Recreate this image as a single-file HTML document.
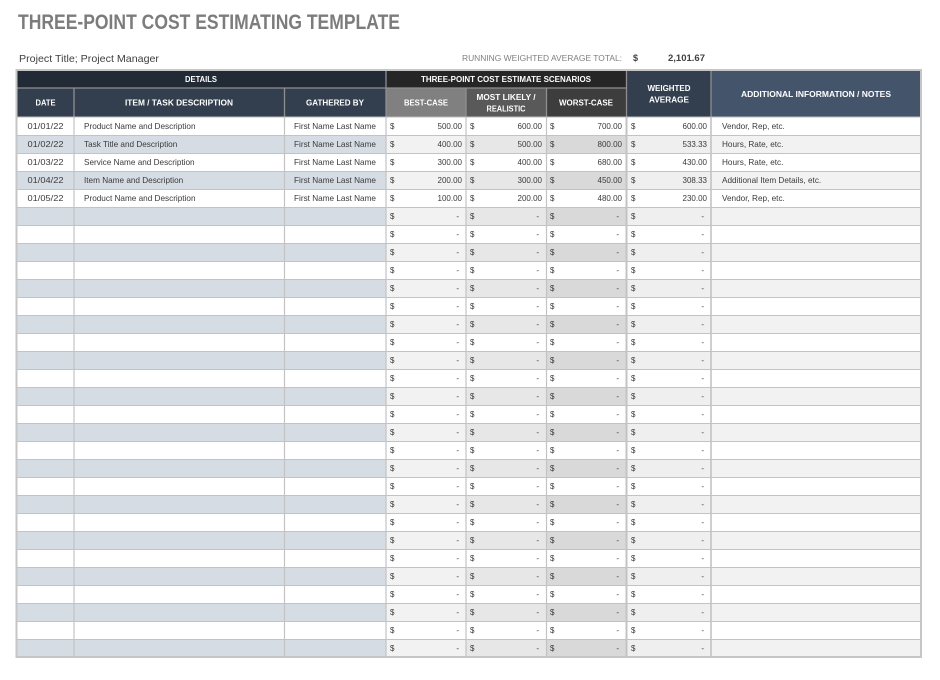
<!DOCTYPE html>
<html><head><meta charset="utf-8"><style>
html,body{margin:0;padding:0;background:#fff;}
svg{display:block;}
text{font-family:"Liberation Sans",Arial,sans-serif;}
.d{font-size:8.2px;fill:#3a3a3a;}
.n{font-size:8px;fill:#3a3a3a;}
.h{font-size:8px;fill:#fff;font-weight:bold;}
.e{text-anchor:end;}
.c{text-anchor:middle;}
</style></head><body>
<svg width="940" height="680" viewBox="0 0 940 680" xmlns="http://www.w3.org/2000/svg">
<defs>
<pattern id="pD" patternUnits="userSpaceOnUse" x="0" y="117" width="940" height="36"><rect x="0" y="0" width="940" height="18" fill="#fff"/><rect x="0" y="18" width="940" height="18" fill="#d6dce4"/></pattern>
<pattern id="pB" patternUnits="userSpaceOnUse" x="0" y="117" width="940" height="36"><rect x="0" y="0" width="940" height="18" fill="#fff"/><rect x="0" y="18" width="940" height="18" fill="#f2f2f2"/></pattern>
<pattern id="pM" patternUnits="userSpaceOnUse" x="0" y="117" width="940" height="36"><rect x="0" y="0" width="940" height="18" fill="#fff"/><rect x="0" y="18" width="940" height="18" fill="#e7e7e7"/></pattern>
<pattern id="pW" patternUnits="userSpaceOnUse" x="0" y="117" width="940" height="36"><rect x="0" y="0" width="940" height="18" fill="#fff"/><rect x="0" y="18" width="940" height="18" fill="#d9d9d9"/></pattern>
<pattern id="pA" patternUnits="userSpaceOnUse" x="0" y="117" width="940" height="36"><rect x="0" y="0" width="940" height="18" fill="#fff"/><rect x="0" y="18" width="940" height="18" fill="#efefef"/></pattern>
<pattern id="pN" patternUnits="userSpaceOnUse" x="0" y="117" width="940" height="36"><rect x="0" y="0" width="940" height="18" fill="#fff"/><rect x="0" y="18" width="940" height="18" fill="#f2f2f2"/></pattern>
<pattern id="hl" patternUnits="userSpaceOnUse" x="0" y="117" width="940" height="18"><rect x="0" y="0" width="940" height="1" fill="#c3c3c3"/></pattern>
</defs>

<!-- Title -->
<text x="18" y="29" font-size="21" font-weight="bold" fill="#7c7c7c" textLength="382" lengthAdjust="spacingAndGlyphs">THREE-POINT COST ESTIMATING TEMPLATE</text>
<text x="19" y="62" font-size="10.5" fill="#404040" textLength="140" lengthAdjust="spacingAndGlyphs">Project Title; Project Manager</text>
<text x="462" y="61" font-size="8" fill="#7f7f7f" textLength="160" lengthAdjust="spacingAndGlyphs">RUNNING WEIGHTED AVERAGE TOTAL:</text>
<text x="633" y="61" font-size="9" font-weight="bold" fill="#404040">$</text>
<text x="668" y="61" font-size="9" font-weight="bold" fill="#404040" textLength="37" lengthAdjust="spacingAndGlyphs">2,101.67</text>

<!-- body column fills -->
<rect x="16" y="117" width="370" height="540" fill="url(#pD)"/>
<rect x="386" y="117" width="80" height="540" fill="url(#pB)"/>
<rect x="466" y="117" width="80" height="540" fill="url(#pM)"/>
<rect x="546" y="117" width="80.5" height="540" fill="url(#pW)"/>
<rect x="626.5" y="117" width="84.5" height="540" fill="url(#pA)"/>
<rect x="711" y="117" width="210" height="540" fill="url(#pN)"/>
<!-- horizontal grid -->
<rect x="16" y="134.5" width="905" height="522" fill="url(#hl)" transform="translate(0,0)"/>
<!-- vertical grid -->
<g stroke="#c3c3c3" stroke-width="1.2">
<line x1="74" y1="117" x2="74" y2="657"/>
<line x1="284.5" y1="117" x2="284.5" y2="657"/>
<line x1="386" y1="117" x2="386" y2="657"/>
<line x1="466" y1="117" x2="466" y2="657"/>
<line x1="546.5" y1="117" x2="546.5" y2="657"/>
<line x1="626.5" y1="117" x2="626.5" y2="657" stroke-width="2"/>
<line x1="711" y1="117" x2="711" y2="657" stroke-width="1.6"/>
</g>

<!-- headers -->
<rect x="16" y="70" width="370" height="18" fill="#222a35"/>
<rect x="16" y="88" width="370" height="29" fill="#333f4f"/>
<rect x="386" y="70" width="240.5" height="18" fill="#262626"/>
<rect x="386" y="88" width="80" height="29" fill="#808080"/>
<rect x="466" y="88" width="80" height="29" fill="#595959"/>
<rect x="546" y="88" width="80.5" height="29" fill="#3d3d3d"/>
<rect x="626.5" y="70" width="84.5" height="47" fill="#333f4f"/>
<rect x="711" y="70" width="210" height="47" fill="#44546a"/>
<g stroke="#8f8f8f" stroke-width="1.3">
<line x1="16" y1="88" x2="626.5" y2="88"/>
<line x1="74" y1="88" x2="74" y2="117"/>
<line x1="284.5" y1="88" x2="284.5" y2="117"/>
<line x1="386" y1="70" x2="386" y2="117"/>
<line x1="466" y1="88" x2="466" y2="117"/>
<line x1="546.5" y1="88" x2="546.5" y2="117"/>
<line x1="626.5" y1="70" x2="626.5" y2="117"/>
<line x1="711" y1="70" x2="711" y2="117"/>
</g>
<line x1="16" y1="117" x2="921" y2="117" stroke="#bdbdbd" stroke-width="1"/>
<!-- outer border -->
<rect x="16.5" y="70" width="904.5" height="587" fill="none" stroke="#c6c6c6" stroke-width="2"/>

<text class="h c" x="201" y="82" textLength="32" lengthAdjust="spacingAndGlyphs">DETAILS</text>
<text class="h c" x="506" y="82" textLength="170" lengthAdjust="spacingAndGlyphs">THREE-POINT COST ESTIMATE SCENARIOS</text>
<text class="h c" x="45.5" y="105.5" textLength="20" lengthAdjust="spacingAndGlyphs">DATE</text>
<text class="h c" x="179" y="105.5" textLength="108" lengthAdjust="spacingAndGlyphs">ITEM / TASK DESCRIPTION</text>
<text class="h c" x="335" y="105.5" textLength="58" lengthAdjust="spacingAndGlyphs">GATHERED BY</text>
<text class="h c" x="426" y="105.5" textLength="44" lengthAdjust="spacingAndGlyphs">BEST-CASE</text>
<text class="h c" x="506" y="100" textLength="59" lengthAdjust="spacingAndGlyphs">MOST LIKELY /</text>
<text class="h c" x="506" y="111.5" textLength="39" lengthAdjust="spacingAndGlyphs">REALISTIC</text>
<text class="h c" x="586" y="105.5" textLength="54" lengthAdjust="spacingAndGlyphs">WORST-CASE</text>
<text class="h c" x="669" y="91" textLength="43" lengthAdjust="spacingAndGlyphs">WEIGHTED</text>
<text class="h c" x="669" y="102.5" textLength="40" lengthAdjust="spacingAndGlyphs">AVERAGE</text>
<text class="h c" x="816" y="97" textLength="150" lengthAdjust="spacingAndGlyphs">ADDITIONAL INFORMATION / NOTES</text>

<!-- data rows -->
<g transform="translate(0,129)">
<text class="d c" x="45.5" textLength="36" lengthAdjust="spacingAndGlyphs">01/01/22</text>
<text class="d" x="84">Product Name and Description</text>
<text class="d c" x="335">First Name Last Name</text>
<text class="n" x="390">$</text><text class="n e" x="462">500.00</text>
<text class="n" x="470">$</text><text class="n e" x="542">600.00</text>
<text class="n" x="550">$</text><text class="n e" x="622">700.00</text>
<text class="n" x="631">$</text><text class="n e" x="707">600.00</text>
<text class="d" x="722">Vendor, Rep, etc.</text>
</g>
<g transform="translate(0,147)">
<text class="d c" x="45.5" textLength="36" lengthAdjust="spacingAndGlyphs">01/02/22</text>
<text class="d" x="84">Task Title and Description</text>
<text class="d c" x="335">First Name Last Name</text>
<text class="n" x="390">$</text><text class="n e" x="462">400.00</text>
<text class="n" x="470">$</text><text class="n e" x="542">500.00</text>
<text class="n" x="550">$</text><text class="n e" x="622">800.00</text>
<text class="n" x="631">$</text><text class="n e" x="707">533.33</text>
<text class="d" x="722">Hours, Rate, etc.</text>
</g>
<g transform="translate(0,165)">
<text class="d c" x="45.5" textLength="36" lengthAdjust="spacingAndGlyphs">01/03/22</text>
<text class="d" x="84">Service Name and Description</text>
<text class="d c" x="335">First Name Last Name</text>
<text class="n" x="390">$</text><text class="n e" x="462">300.00</text>
<text class="n" x="470">$</text><text class="n e" x="542">400.00</text>
<text class="n" x="550">$</text><text class="n e" x="622">680.00</text>
<text class="n" x="631">$</text><text class="n e" x="707">430.00</text>
<text class="d" x="722">Hours, Rate, etc.</text>
</g>
<g transform="translate(0,183)">
<text class="d c" x="45.5" textLength="36" lengthAdjust="spacingAndGlyphs">01/04/22</text>
<text class="d" x="84">Item Name and Description</text>
<text class="d c" x="335">First Name Last Name</text>
<text class="n" x="390">$</text><text class="n e" x="462">200.00</text>
<text class="n" x="470">$</text><text class="n e" x="542">300.00</text>
<text class="n" x="550">$</text><text class="n e" x="622">450.00</text>
<text class="n" x="631">$</text><text class="n e" x="707">308.33</text>
<text class="d" x="722">Additional Item Details, etc.</text>
</g>
<g transform="translate(0,201)">
<text class="d c" x="45.5" textLength="36" lengthAdjust="spacingAndGlyphs">01/05/22</text>
<text class="d" x="84">Product Name and Description</text>
<text class="d c" x="335">First Name Last Name</text>
<text class="n" x="390">$</text><text class="n e" x="462">100.00</text>
<text class="n" x="470">$</text><text class="n e" x="542">200.00</text>
<text class="n" x="550">$</text><text class="n e" x="622">480.00</text>
<text class="n" x="631">$</text><text class="n e" x="707">230.00</text>
<text class="d" x="722">Vendor, Rep, etc.</text>
</g>

<!-- blank rows -->
<g transform="translate(0,219)"><text class="n" x="390">$</text><text class="n e" x="459">-</text><text class="n" x="470">$</text><text class="n e" x="539">-</text><text class="n" x="550">$</text><text class="n e" x="619">-</text><text class="n" x="631">$</text><text class="n e" x="704">-</text></g>
<g transform="translate(0,237)"><text class="n" x="390">$</text><text class="n e" x="459">-</text><text class="n" x="470">$</text><text class="n e" x="539">-</text><text class="n" x="550">$</text><text class="n e" x="619">-</text><text class="n" x="631">$</text><text class="n e" x="704">-</text></g>
<g transform="translate(0,255)"><text class="n" x="390">$</text><text class="n e" x="459">-</text><text class="n" x="470">$</text><text class="n e" x="539">-</text><text class="n" x="550">$</text><text class="n e" x="619">-</text><text class="n" x="631">$</text><text class="n e" x="704">-</text></g>
<g transform="translate(0,273)"><text class="n" x="390">$</text><text class="n e" x="459">-</text><text class="n" x="470">$</text><text class="n e" x="539">-</text><text class="n" x="550">$</text><text class="n e" x="619">-</text><text class="n" x="631">$</text><text class="n e" x="704">-</text></g>
<g transform="translate(0,291)"><text class="n" x="390">$</text><text class="n e" x="459">-</text><text class="n" x="470">$</text><text class="n e" x="539">-</text><text class="n" x="550">$</text><text class="n e" x="619">-</text><text class="n" x="631">$</text><text class="n e" x="704">-</text></g>
<g transform="translate(0,309)"><text class="n" x="390">$</text><text class="n e" x="459">-</text><text class="n" x="470">$</text><text class="n e" x="539">-</text><text class="n" x="550">$</text><text class="n e" x="619">-</text><text class="n" x="631">$</text><text class="n e" x="704">-</text></g>
<g transform="translate(0,327)"><text class="n" x="390">$</text><text class="n e" x="459">-</text><text class="n" x="470">$</text><text class="n e" x="539">-</text><text class="n" x="550">$</text><text class="n e" x="619">-</text><text class="n" x="631">$</text><text class="n e" x="704">-</text></g>
<g transform="translate(0,345)"><text class="n" x="390">$</text><text class="n e" x="459">-</text><text class="n" x="470">$</text><text class="n e" x="539">-</text><text class="n" x="550">$</text><text class="n e" x="619">-</text><text class="n" x="631">$</text><text class="n e" x="704">-</text></g>
<g transform="translate(0,363)"><text class="n" x="390">$</text><text class="n e" x="459">-</text><text class="n" x="470">$</text><text class="n e" x="539">-</text><text class="n" x="550">$</text><text class="n e" x="619">-</text><text class="n" x="631">$</text><text class="n e" x="704">-</text></g>
<g transform="translate(0,381)"><text class="n" x="390">$</text><text class="n e" x="459">-</text><text class="n" x="470">$</text><text class="n e" x="539">-</text><text class="n" x="550">$</text><text class="n e" x="619">-</text><text class="n" x="631">$</text><text class="n e" x="704">-</text></g>
<g transform="translate(0,399)"><text class="n" x="390">$</text><text class="n e" x="459">-</text><text class="n" x="470">$</text><text class="n e" x="539">-</text><text class="n" x="550">$</text><text class="n e" x="619">-</text><text class="n" x="631">$</text><text class="n e" x="704">-</text></g>
<g transform="translate(0,417)"><text class="n" x="390">$</text><text class="n e" x="459">-</text><text class="n" x="470">$</text><text class="n e" x="539">-</text><text class="n" x="550">$</text><text class="n e" x="619">-</text><text class="n" x="631">$</text><text class="n e" x="704">-</text></g>
<g transform="translate(0,435)"><text class="n" x="390">$</text><text class="n e" x="459">-</text><text class="n" x="470">$</text><text class="n e" x="539">-</text><text class="n" x="550">$</text><text class="n e" x="619">-</text><text class="n" x="631">$</text><text class="n e" x="704">-</text></g>
<g transform="translate(0,453)"><text class="n" x="390">$</text><text class="n e" x="459">-</text><text class="n" x="470">$</text><text class="n e" x="539">-</text><text class="n" x="550">$</text><text class="n e" x="619">-</text><text class="n" x="631">$</text><text class="n e" x="704">-</text></g>
<g transform="translate(0,471)"><text class="n" x="390">$</text><text class="n e" x="459">-</text><text class="n" x="470">$</text><text class="n e" x="539">-</text><text class="n" x="550">$</text><text class="n e" x="619">-</text><text class="n" x="631">$</text><text class="n e" x="704">-</text></g>
<g transform="translate(0,489)"><text class="n" x="390">$</text><text class="n e" x="459">-</text><text class="n" x="470">$</text><text class="n e" x="539">-</text><text class="n" x="550">$</text><text class="n e" x="619">-</text><text class="n" x="631">$</text><text class="n e" x="704">-</text></g>
<g transform="translate(0,507)"><text class="n" x="390">$</text><text class="n e" x="459">-</text><text class="n" x="470">$</text><text class="n e" x="539">-</text><text class="n" x="550">$</text><text class="n e" x="619">-</text><text class="n" x="631">$</text><text class="n e" x="704">-</text></g>
<g transform="translate(0,525)"><text class="n" x="390">$</text><text class="n e" x="459">-</text><text class="n" x="470">$</text><text class="n e" x="539">-</text><text class="n" x="550">$</text><text class="n e" x="619">-</text><text class="n" x="631">$</text><text class="n e" x="704">-</text></g>
<g transform="translate(0,543)"><text class="n" x="390">$</text><text class="n e" x="459">-</text><text class="n" x="470">$</text><text class="n e" x="539">-</text><text class="n" x="550">$</text><text class="n e" x="619">-</text><text class="n" x="631">$</text><text class="n e" x="704">-</text></g>
<g transform="translate(0,561)"><text class="n" x="390">$</text><text class="n e" x="459">-</text><text class="n" x="470">$</text><text class="n e" x="539">-</text><text class="n" x="550">$</text><text class="n e" x="619">-</text><text class="n" x="631">$</text><text class="n e" x="704">-</text></g>
<g transform="translate(0,579)"><text class="n" x="390">$</text><text class="n e" x="459">-</text><text class="n" x="470">$</text><text class="n e" x="539">-</text><text class="n" x="550">$</text><text class="n e" x="619">-</text><text class="n" x="631">$</text><text class="n e" x="704">-</text></g>
<g transform="translate(0,597)"><text class="n" x="390">$</text><text class="n e" x="459">-</text><text class="n" x="470">$</text><text class="n e" x="539">-</text><text class="n" x="550">$</text><text class="n e" x="619">-</text><text class="n" x="631">$</text><text class="n e" x="704">-</text></g>
<g transform="translate(0,615)"><text class="n" x="390">$</text><text class="n e" x="459">-</text><text class="n" x="470">$</text><text class="n e" x="539">-</text><text class="n" x="550">$</text><text class="n e" x="619">-</text><text class="n" x="631">$</text><text class="n e" x="704">-</text></g>
<g transform="translate(0,633)"><text class="n" x="390">$</text><text class="n e" x="459">-</text><text class="n" x="470">$</text><text class="n e" x="539">-</text><text class="n" x="550">$</text><text class="n e" x="619">-</text><text class="n" x="631">$</text><text class="n e" x="704">-</text></g>
<g transform="translate(0,651)"><text class="n" x="390">$</text><text class="n e" x="459">-</text><text class="n" x="470">$</text><text class="n e" x="539">-</text><text class="n" x="550">$</text><text class="n e" x="619">-</text><text class="n" x="631">$</text><text class="n e" x="704">-</text></g>
</svg>
</body></html>
